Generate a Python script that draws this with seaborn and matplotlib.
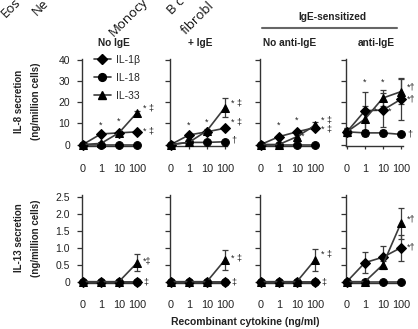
import numpy as np
import pandas as pd
import matplotlib
matplotlib.use("Agg")
import matplotlib.pyplot as plt
import seaborn as sns
from matplotlib.lines import Line2D

sns.set_theme(style="ticks")
plt.rcParams['font.family'] = ['Liberation Sans', 'DejaVu Sans']

# ---------------- data ----------------
conc = ["0", "1", "10", "100"]
cytokines = ["IL-1\u03b2", "IL-18", "IL-33"]
conditions = ["No IgE", "+ IgE", "No anti-IgE", "anti-IgE"]
# labels of the panel above, cut off at the top edge in the reference
cell_labels = ["Eos", "Ne", "Monocy", "B c", "fibrobl"]

# IL-8 secretion (ng/million cells), one row per condition
il8_il1b = [[0, 5, 5.5, 6], [0, 4.5, 6, 7.7], [0, 3.7, 6, 8], [6, 16, 16.3, 21.4]]
il8_il18 = [[0, 0, 0, 0], [0, 1, 1, 1.3], [0, 0, 0, 0], [6, 5.5, 5.5, 4.8]]
il8_il33 = [[0, 0.5, 5.5, 15], [0, 1, 6.5, 17.5], [0, 0, 3.7, 9], [6, 12, 22, 25]]
il8_il1b_err = [[0, 0, 0, 0], [0, 0, 0, 0], [0, 0, 0, 0], [2, 9, 8, 10]]
il8_il18_err = [[0, 0, 0, 0], [0, 0, 0, 0], [0, 0, 0, 0], [1.5, 1.5, 1.5, 1]]
il8_il33_err = [[0, 0, 0, 1], [0, 0, 1, 4.5], [0, 0, 0.8, 1.5], [2, 6, 4, 6]]

# IL-13 secretion (ng/million cells)
il13_il1b = [[0, 0, 0, 0], [0, 0, 0, 0], [0, 0, 0, 0], [0, 0.56, 0.72, 1.0]]
il13_il18 = [[0, 0, 0, 0], [0, 0, 0, 0], [0, 0, 0, 0], [0, 0, 0, 0]]
il13_il33 = [[0, 0, 0, 0.55], [0, 0, 0, 0.64], [0, 0, 0, 0.64], [0, 0, 0.5, 1.72]]
il13_il1b_err = [[0, 0, 0, 0], [0, 0, 0, 0], [0, 0, 0, 0], [0, 0.3, 0.33, 0.38]]
il13_il18_err = [[0, 0, 0, 0], [0, 0, 0, 0], [0, 0, 0, 0], [0, 0, 0, 0]]
il13_il33_err = [[0, 0, 0, 0.25], [0, 0, 0, 0.3], [0, 0, 0, 0.32], [0, 0, 0.12, 0.45]]

# significance marks: (x index, value, text)
il8_marks = [
    [(1, 9.2, "*"), (2, 10.8, "*"), (3.35, 17.5, "* \u2021"), (3.35, 6.4, "* \u2021")],
    [(1, 9.0, "*"), (2, 10.5, "*"), (3.35, 19.8, "* \u2021"), (3.35, 10.8, "* \u2021"), (3.35, 2.1, "\u2020")],
    [(1, 9.2, "*"), (2, 11.3, "*"), (2.3, 3.7, "*"), (3.35, 11.6, "* \u2021"), (3.35, 7.2, "* \u2021")],
    [(1, 29.5, "*"), (2, 29.5, "*"), (1.62, 15.9, "*"), (2.38, 15.9, "*"),
     (3.35, 27, "*\u2020"), (3.35, 21.5, "*\u2020"), (3.35, 4.8, "\u2020")],
]
il13_marks = [
    [(3.35, 0.6, "*\u2021"), (3.35, 0.0, "\u2021")],
    [(3.35, 0.7, "* \u2021"), (3.35, 0.0, "\u2021")],
    [(3.35, 0.8, "* \u2021"), (3.35, 0.0, "\u2021")],
    [(3.35, 1.83, "*\u2020"), (3.35, 1.01, "*\u2020")],
]

# ---------------- layout helpers ----------------
W, H = 418, 329
fig = plt.figure(figsize=(W / 100, H / 100), dpi=100)


def fx(x):
    return x / W


def fy(y):
    return 1 - y / H


def add_ax(left_px, top_px, bottom_px, width_px):
    return fig.add_axes([fx(left_px), fy(bottom_px), width_px / W, (bottom_px - top_px) / H])


lefts = [82, 170, 260, 346]
markers = ["D", "o", "^"]
msizes = [4.6, 5.6, 6.0]
line_col = "#3c3c3c"
spine_col = "#333333"

rows = [
    dict(vals=[il8_il1b, il8_il18, il8_il33], errs=[il8_il1b_err, il8_il18_err, il8_il33_err],
         marks=il8_marks, ylim=(-0.8, 40.6), top=58.7, bottom=146.2,
         yticks=[0, 10, 20, 30, 40], ylabels=["0", "10", "20", "30", "40"]),
    dict(vals=[il13_il1b, il13_il18, il13_il33], errs=[il13_il1b_err, il13_il18_err, il13_il33_err],
         marks=il13_marks, ylim=(-0.03, 2.55), top=195.0, bottom=282.7,
         yticks=[0, 0.5, 1.0, 1.5, 2.0, 2.5], ylabels=["0", "0.5", "1.0", "1.5", "2.0", "2.5"]),
]

xpos = np.arange(len(conc))
axes_grid = []
for r, row in enumerate(rows):
    axes_row = []
    for c, cond in enumerate(conditions):
        ax = add_ax(lefts[c], row["top"], row["bottom"], 56.7)
        for s, cyt in enumerate(cytokines):
            df = pd.DataFrame({"x": xpos, "y": row["vals"][s][c]})
            sns.lineplot(data=df, x="x", y="y", ax=ax, color=line_col, linewidth=1.2,
                         marker=markers[s], markersize=msizes[s], markerfacecolor="black",
                         markeredgecolor="black", legend=False, zorder=3, clip_on=False)
            err = np.array(row["errs"][s][c])
            if err.any():
                ax.errorbar(xpos, row["vals"][s][c], yerr=err, fmt="none", ecolor=line_col,
                            elinewidth=0.9, capsize=2.2, capthick=0.9, zorder=2, clip_on=False)
        for (xm, ym, t) in row["marks"][c]:
            ax.text(xm, ym, t, fontsize=6.5, ha="left" if xm > 3 else "center",
                    va="center", color="#222222", clip_on=False)
        ax.set_xlim(-0.05, 3.1)
        ax.set_ylim(*row["ylim"])
        ax.set_xticks(xpos)
        ax.set_xticklabels(conc)
        ax.set_yticks(row["yticks"])
        if c == 0:
            ax.set_yticklabels(row["ylabels"])
        else:
            ax.set_yticklabels([])
        ax.set_xlabel("")
        ax.set_ylabel("")
        sns.despine(ax=ax)
        for sp in ["left", "bottom"]:
            ax.spines[sp].set_color(spine_col)
            ax.spines[sp].set_linewidth(1.0)
        ax.tick_params(axis="y", length=3.5, width=0.9, pad=5, labelsize=7.5,
                       colors=spine_col, labelcolor="#222222")
        ax.tick_params(axis="x", length=2.5, width=0.9, pad=10, labelsize=7.8,
                       colors=spine_col, labelcolor="#222222")
        ax.patch.set_alpha(0)
        axes_row.append(ax)
    axes_grid.append(axes_row)

# legend in first panel
handles = [Line2D([0], [0], color=line_col, lw=1.2, marker=markers[i], markersize=msizes[i],
                  markerfacecolor="black", markeredgecolor="black") for i in range(3)]
axes_grid[0][0].legend(handles, cytokines, loc="upper left",
                       bbox_to_anchor=(fx(94), fy(55)), bbox_transform=fig.transFigure,
                       frameon=False, fontsize=7.5, handlelength=1.6, handletextpad=0.5,
                       labelspacing=0.75, borderpad=0, borderaxespad=0)

# column titles
title_x = [114, 200, 290, 376]
for c, cond in enumerate(conditions):
    fig.text(fx(title_x[c]), fy(43), cond, ha="center", va="center",
             fontsize=7.3, fontweight="bold", color="#222222")
fig.text(fx(332), fy(17), "IgE-sensitized", ha="center", va="center",
         fontsize=7.3, fontweight="bold", color="#222222")
fig.add_artist(Line2D([fx(262), fx(397)], [fy(28), fy(28)], color="#666666", lw=1.5))

# y labels
fig.text(fx(19), fy(101), "IL-8 secretion", rotation=90, ha="center", va="center",
         fontsize=7, fontweight="bold", color="#222222")
fig.text(fx(36), fy(101), "(ng/million cells)", rotation=90, ha="center", va="center",
         fontsize=7, fontweight="bold", color="#222222")
fig.text(fx(19), fy(238), "IL-13 secretion", rotation=90, ha="center", va="center",
         fontsize=7, fontweight="bold", color="#222222")
fig.text(fx(36), fy(238), "(ng/million cells)", rotation=90, ha="center", va="center",
         fontsize=7, fontweight="bold", color="#222222")

# x label
fig.text(fx(245), fy(322), "Recombinant cytokine (ng/ml)", ha="center", va="center",
         fontsize=7.5, fontweight="bold", color="#222222")

# cut-off rotated labels at the top
starts = [(6, 18), (37, 16), (114, 37), (172, 15), (186, 35)]
for (sx, sy), lab in zip(starts, cell_labels):
    t = fig.text(fx(sx), fy(sy), lab, ha="left", va="baseline", fontsize=9.5,
                 family=["Open Sans", "DejaVu Sans"], color="#111111")
    t.set_rotation(45)
    t.set_rotation_mode("anchor")

fig.savefig("out.png", dpi=100)
